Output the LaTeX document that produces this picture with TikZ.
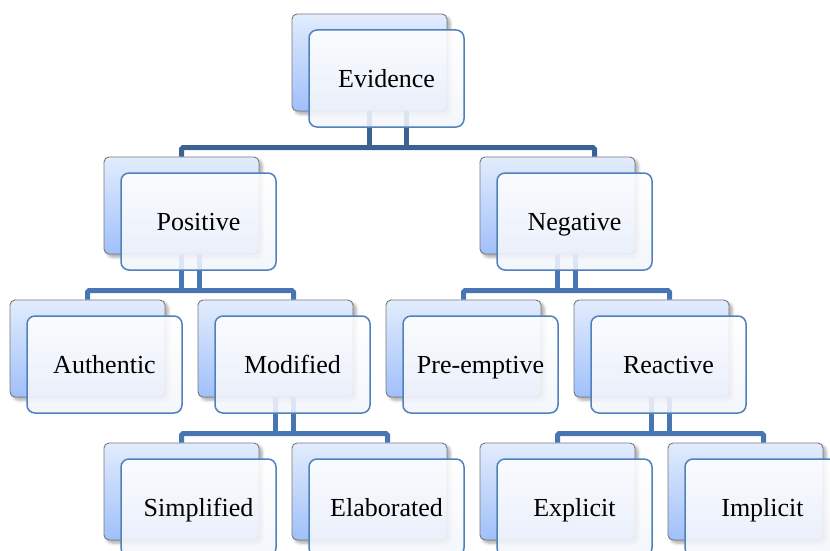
\documentclass[tikz,border=0pt]{standalone}
\usepackage{fontspec}
\setmainfont{Liberation Serif}
\usetikzlibrary{shadows.blur}
\definecolor{backtop}{RGB}{226,236,253}
\definecolor{backbot}{RGB}{160,192,250}
\definecolor{backline}{RGB}{120,120,120}
\definecolor{frontline}{RGB}{79,129,189}
\definecolor{frontlow}{RGB}{242,245,251}
\definecolor{topconn}{RGB}{60,98,148}
\definecolor{conn}{RGB}{72,118,178}

\begin{document}
\begin{tikzpicture}
	% Styles
	[
	x=1pt,y=-1pt,
	backcard/.style={rectangle,rounded corners=5pt,draw=backline,line width=0.9pt,
		top color=backtop,bottom color=backbot,minimum width=155pt,minimum height=97pt,
		blur shadow={shadow xshift=3pt,shadow yshift=-3pt,shadow opacity=35,shadow blur radius=3pt}},
	frontcard/.style={rectangle,rounded corners=8pt,draw=frontline,line width=1.5pt,
		top color=white,bottom color=frontlow,fill opacity=0.88,text opacity=1,
		minimum width=155pt,minimum height=97pt,text height=18pt,text depth=0pt,
		font=\fontsize{26}{30}\selectfont},
	toplink/.style={draw=topconn,line width=5pt,rounded corners=1.5pt},
	link/.style={draw=conn,line width=5pt,rounded corners=1.5pt},
	]
	\useasboundingbox (0,0) rectangle (830,551);
	\clip (0,0) rectangle (830,551);

	% Back cards
	\node at (369.5,62.5)	(evidB)	[backcard] {};
	\node at (181.5,205.5)	(posB)	[backcard] {};
	\node at (557.5,205.5)	(negB)	[backcard] {};
	\node at (87.5,348.5)	(authB)	[backcard] {};
	\node at (275.5,348.5)	(modB)	[backcard] {};
	\node at (463.5,348.5)	(preB)	[backcard] {};
	\node at (651.5,348.5)	(reacB)	[backcard] {};
	\node at (181.5,491.5)	(simpB)	[backcard] {};
	\node at (369.5,491.5)	(elabB)	[backcard] {};
	\node at (557.5,491.5)	(explB)	[backcard] {};
	\node at (745.5,491.5)	(implB)	[backcard] {};

	% Connections
	\draw[toplink] (posB.north) -- ++(0,-9) -| ([xshift=37pt]negB.north);
	\draw[toplink] (evidB.south) -- ++(0,37);
	\draw[toplink] ([xshift=37pt]evidB.south) -- ++(0,37);

	\draw[link] (authB.north) -- ++(0,-9) -| ([xshift=18pt]modB.north);
	\draw[link] (posB.south) -- ++(0,37);
	\draw[link] ([xshift=18pt]posB.south) -- ++(0,37);

	\draw[link] (preB.north) -- ++(0,-9) -| ([xshift=18pt]reacB.north);
	\draw[link] (negB.south) -- ++(0,37);
	\draw[link] ([xshift=18pt]negB.south) -- ++(0,37);

	\draw[link] (simpB.north) -- ++(0,-9) -| ([xshift=18pt]elabB.north);
	\draw[link] (modB.south) -- ++(0,37);
	\draw[link] ([xshift=18pt]modB.south) -- ++(0,37);

	\draw[link] (explB.north) -- ++(0,-9) -| ([xshift=18pt]implB.north);
	\draw[link] (reacB.south) -- ++(0,37);
	\draw[link] ([xshift=18pt]reacB.south) -- ++(0,37);

	% Front cards
	\node at (386.5,78.5)	(evid)	[frontcard] {Evidence};
	\node at (198.5,221.5)	(pos)	[frontcard] {Positive};
	\node at (574.5,221.5)	(neg)	[frontcard] {Negative};
	\node at (104.5,364.5)	(auth)	[frontcard] {Authentic};
	\node at (292.5,364.5)	(mod)	[frontcard] {Modified};
	\node at (480.5,364.5)	(pre)	[frontcard] {Pre-emptive};
	\node at (668.5,364.5)	(reac)	[frontcard] {Reactive};
	\node at (198.5,507.5)	(simp)	[frontcard] {Simplified};
	\node at (386.5,507.5)	(elab)	[frontcard] {Elaborated};
	\node at (574.5,507.5)	(expl)	[frontcard] {Explicit};
	\node at (762.5,507.5)	(impl)	[frontcard] {Implicit};

\end{tikzpicture}
\end{document}
